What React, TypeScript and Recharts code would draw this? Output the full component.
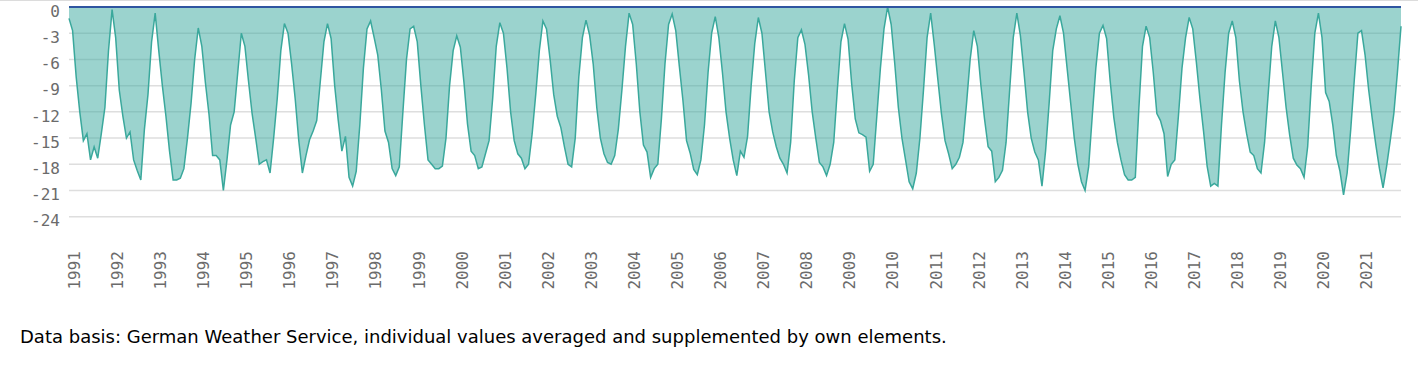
import React from 'react';
import { AreaChart, Area, XAxis, YAxis, CartesianGrid, ReferenceLine } from 'recharts';

const years = [
  1991, 1992, 1993, 1994, 1995, 1996, 1997, 1998, 1999, 2000,
  2001, 2002, 2003, 2004, 2005, 2006, 2007, 2008, 2009, 2010,
  2011, 2012, 2013, 2014, 2015, 2016, 2017, 2018, 2019, 2020, 2021,
];

// monthly values (Jan..Dec) per year
const v1991 = [-1.3, -2.7, -8, -12, -15.3, -14.5, -17.5, -16, -17.3, -14.5, -11.5, -5];
const v1992 = [-0.3, -3.5, -9.5, -12.5, -15, -14.3, -17.5, -18.7, -19.8, -14, -10, -4];
const v1993 = [-0.7, -5, -9, -12.5, -16.5, -19.8, -19.8, -19.6, -18.5, -15, -11, -6];
const v1994 = [-2.4, -4.5, -8.7, -12.3, -17, -17, -17.5, -21, -17.5, -13.5, -12, -7.5];
const v1995 = [-3.0, -4.5, -8.5, -12.2, -15, -18, -17.7, -17.5, -19, -15, -10.5, -5];
const v1996 = [-1.9, -3, -6.5, -10.5, -15.3, -19, -17, -15.2, -14.2, -13, -8.5, -4];
const v1997 = [-1.9, -3.6, -9, -13, -16.5, -14.8, -19.5, -20.5, -18.8, -13.5, -7, -2.5];
const v1998 = [-1.6, -3.5, -5.5, -9.5, -14.2, -15.5, -18.5, -19.3, -18.3, -12, -6, -2.5];
const v1999 = [-2.2, -4, -9, -13.5, -17.5, -18, -18.5, -18.5, -18.2, -15, -9, -5];
const v2000 = [-3.3, -4.6, -8.6, -13.4, -16.5, -17, -18.5, -18.3, -16.8, -15.3, -10.5, -4.5];
const v2001 = [-1.8, -3, -7, -12, -15.3, -16.8, -17.3, -18.5, -18, -14.5, -10, -5];
const v2002 = [-1.6, -2.5, -6, -10, -12.5, -13.8, -16, -18, -18.3, -15, -8, -3.5];
const v2003 = [-1.5, -3.2, -6.5, -11.5, -15, -16.8, -17.8, -18, -17, -14, -9.5, -4.5];
const v2004 = [-0.7, -2, -6.5, -12, -15.8, -16.6, -19.5, -18.5, -18, -12.8, -6.5, -2];
const v2005 = [-0.8, -2.7, -6.8, -10.7, -15.3, -16.7, -18.6, -19.2, -17.5, -13.5, -7.5, -3];
const v2006 = [-1.1, -3.5, -7.5, -12, -15, -17.5, -19.3, -16.5, -17.2, -14.8, -9, -4.2];
const v2007 = [-1.2, -3, -7.5, -12, -14.3, -16, -17.3, -18, -19, -15.5, -8.5, -3.5];
const v2008 = [-2.6, -4.3, -7.8, -12, -15, -17.8, -18.3, -19.3, -18, -15.5, -9.5, -4];
const v2009 = [-1.9, -3.7, -8.8, -12.8, -14.4, -14.6, -14.9, -18.8, -18, -12.5, -7, -2.5];
const v2010 = [0, -2, -6.5, -11.5, -15, -17.5, -20, -20.8, -19, -15, -9.5, -3.5];
const v2011 = [-0.7, -4.3, -8.3, -12.2, -15.3, -16.8, -18.5, -18, -17.2, -15.5, -11, -6];
const v2012 = [-2.7, -4.5, -9, -12.8, -16, -16.5, -20, -19.5, -18.7, -15.5, -9.5, -3.5];
const v2013 = [-0.7, -3.3, -7.5, -12, -15, -16.6, -17.5, -20.5, -16.5, -11, -5, -2.5];
const v2014 = [-1.0, -3, -7, -11, -15, -18, -20, -21, -18.3, -12.5, -7, -3];
const v2015 = [-2.1, -3.6, -8.5, -12.6, -15.5, -17.5, -19.2, -19.8, -19.8, -19.5, -11.5, -4.5];
const v2016 = [-2.2, -3.5, -7.5, -12.2, -13, -14.5, -19.4, -18, -17.5, -12.5, -7, -3.5];
const v2017 = [-1.2, -2.5, -6.3, -10.5, -14.2, -18.2, -20.5, -20.2, -20.5, -13.5, -7.5, -3];
const v2018 = [-1.6, -3.5, -8.5, -12, -14.5, -16.6, -17, -18.5, -19, -15.5, -10, -4.5];
const v2019 = [-1.6, -3.5, -7.5, -11.5, -14.7, -17.3, -18.1, -18.5, -19.5, -16, -9, -3];
const v2020 = [-0.7, -3.5, -9.8, -10.8, -13.5, -17, -18.8, -21.5, -19, -14, -8.3, -3];
const v2021 = [-2.7, -5.5, -9.5, -12.8, -15.8, -18.5, -20.7, -18.2, -15.3, -12.2, -7.5, -2.2];

const yearValues = [
  v1991, v1992, v1993, v1994, v1995, v1996, v1997, v1998, v1999, v2000,
  v2001, v2002, v2003, v2004, v2005, v2006, v2007, v2008, v2009, v2010,
  v2011, v2012, v2013, v2014, v2015, v2016, v2017, v2018, v2019, v2020, v2021,
];

const yTicks = [0, -3, -6, -9, -12, -15, -18, -21, -24];
const footnote =
  'Data basis: German Weather Service, individual values averaged and supplemented by own elements.';

const data = years.flatMap((yr, i) =>
  yearValues[i].map((v, m) => ({ key: `${yr}-${m + 1}`, value: v }))
);

const MONO = '"DejaVu Sans Mono", monospace';

const XTick = (props: any) => {
  const { x, y, payload } = props;
  return (
    <g transform={`translate(${x},${y})`}>
      <text
        transform="rotate(-90)"
        textAnchor="end"
        dy="0.68em"
        fontFamily={MONO}
        fontSize={16}
        fill="#6b6b6b"
      >
        {String(payload.value).slice(0, 4)}
      </text>
    </g>
  );
};

const YTick = (props: any) => {
  const { x, y, payload } = props;
  return (
    <text
      x={x}
      y={y + 4}
      dy="0.355em"
      textAnchor="end"
      fontFamily={MONO}
      fontSize={16}
      fill="#6b6b6b"
    >
      {payload.value}
    </text>
  );
};

export default function App() {
  return (
    <div
      style={{
        position: 'absolute',
        left: 0,
        top: 0,
        width: 1418,
        height: 369,
        background: '#fff',
        overflow: 'hidden',
      }}
    >
      <div
        style={{
          position: 'absolute',
          left: 0,
          top: 0,
          width: 1418,
          height: 1,
          background: '#dcdcdc',
        }}
      />
      <div style={{ position: 'absolute', left: 0, top: 0 }}>
        <AreaChart
          width={1418}
          height={300}
          data={data}
          margin={{ top: 7, right: 17, bottom: 0, left: 0 }}
        >
          <CartesianGrid vertical={false} stroke="#dedede" strokeWidth={1.5} />
          <XAxis
            dataKey="key"
            interval={11}
            axisLine={false}
            tickLine={false}
            height={83.3}
            tickMargin={28.3}
            tick={<XTick />}
          />
          <YAxis
            type="number"
            domain={[-24, 0]}
            ticks={yTicks}
            interval={0}
            width={69}
            axisLine={false}
            tickLine={false}
            tickMargin={3}
            tick={<YTick />}
          />
          <Area
            type="linear"
            dataKey="value"
            baseValue={0}
            stroke="#3aa89c"
            strokeWidth={1.5}
            fill="#38a89d"
            fillOpacity={0.5}
            dot={false}
            activeDot={false}
            isAnimationActive={false}
          />
          <ReferenceLine y={0} stroke="#2f55a0" strokeWidth={2} />
        </AreaChart>
      </div>
      <div
        style={{
          position: 'absolute',
          left: 20,
          top: 325.6,
          fontFamily: '"DejaVu Sans", Verdana, sans-serif',
          fontSize: 18,
          lineHeight: 'normal',
          color: '#000',
          whiteSpace: 'nowrap',
        }}
      >
        {footnote}
      </div>
    </div>
  );
}
